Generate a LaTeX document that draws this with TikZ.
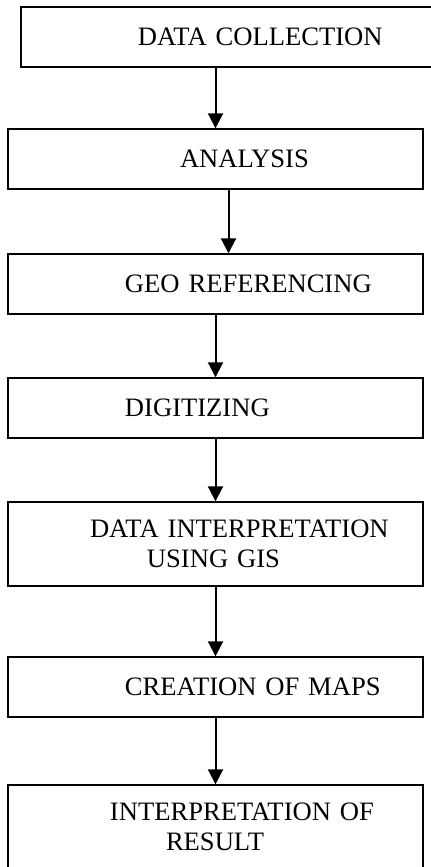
\documentclass[tikz,border=0pt]{standalone}
\usepackage{fontspec}
\setmainfont{Liberation Serif}
\usetikzlibrary{arrows.meta,positioning}

\begin{document}
\begin{tikzpicture}[x=0.5pt,y=-0.5pt,>={Triangle[width=7.5pt,length=7.5pt]},
	box node/.style={rectangle,draw,line width=1pt,inner xsep=0pt,text width=207.5pt,
		align=left,minimum height=30pt,font=\fontsize{13.3pt}{15pt}\selectfont}]
	\useasboundingbox (0,0) rectangle (430,867);
	
	\node[box node] (collect) at (228.5,37.3) {\hspace*{58.5pt}DATA COLLECTION};
	\node[box node] (analysis) [below=30pt of collect,xshift=-6.5pt] {\hspace*{86pt}ANALYSIS};
	\node[box node] (georef) [below=31.5pt of analysis] {\hspace*{58.5pt}GEO REFERENCING};
	\node[box node] (digit) [below=31pt of georef] {\hspace*{58.5pt}DIGITIZING};
	\node[box node,minimum height=42pt] (gis) [below=31pt of digit] {\hspace*{41pt}DATA INTERPRETATION\\\hspace*{69.5pt}USING GIS};
	\node[box node] (maps) [below=34.5pt of gis] {\hspace*{58.5pt}CREATION OF MAPS};
	\node[box node,minimum height=42pt] (result) [below=33pt of maps] {\hspace*{51pt}INTERPRETATION OF\\\hspace*{79pt}RESULT};
	
	\path[->,line width=1pt]
	(collect.south -| analysis) edge (analysis)
	(analysis.south -| collect) edge (georef.north -| collect)
	(georef) edge (digit)
	(digit) edge (gis)
	(gis) edge (maps)
	(maps) edge (result);
\end{tikzpicture}
\end{document}
